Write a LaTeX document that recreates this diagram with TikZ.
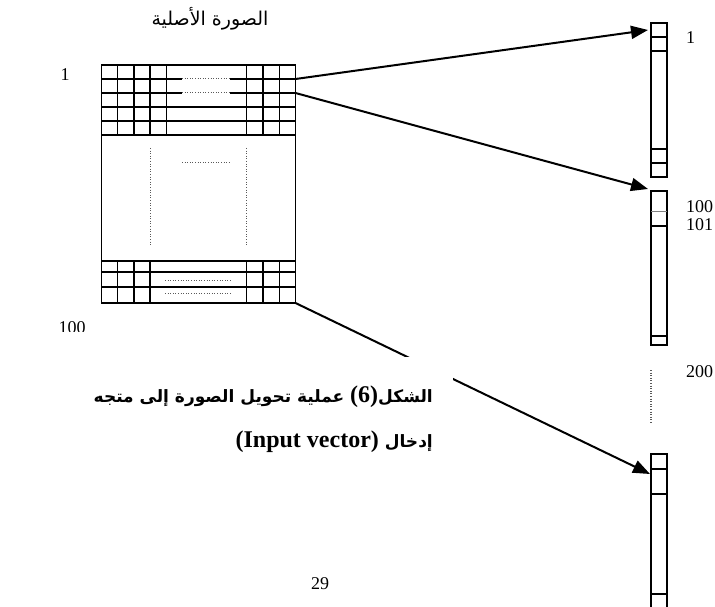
\documentclass[tikz,border=0pt]{standalone}
\usepackage{fontspec}
\setmainfont{Liberation Serif}
\newfontfamily\arabicfont[Script=Arabic]{DejaVu Sans}
\TeXXeTstate=1
\usetikzlibrary{arrows.meta}
\begin{document}
\begin{tikzpicture}[x=1pt,y=-1pt,
  gridline/.style={line width=1.8pt},
  dotline/.style={line width=1pt, dash pattern=on 1pt off 1.6pt, gray!70!black},
  vline/.style={line width=2pt},
  arr/.style={line width=2pt, -{Triangle[length=17pt,width=13pt]}},
  num/.style={font=\fontsize{18}{20}\selectfont, inner sep=0pt},
]
\useasboundingbox (0,0) rectangle (715,607);

% title
\node[font=\arabicfont\fontsize{19}{22}\selectfont, inner sep=0pt] (title) at (210,19) {\beginR الصورة الأصلية\endR};

% ---- image grid ----
\draw[gridline] (101.5,65) rectangle (295.5,303);
\foreach \y in {79,93,107,121,135} {
  \draw[gridline] (101.5,\y) -- (295.5,\y);
}
\foreach \x in {117.5,134,150,166.5,246.5,263,279.5} {
  \draw[gridline] (\x,65) -- (\x,135);
}
\foreach \y in {79,93} {
  \draw[white, line width=2.4pt] (182,\y) -- (230,\y);
  \draw[dotline] (182,\y) -- (230,\y);
}
\draw[dotline] (150,148) -- (150,245);
\draw[dotline] (246.5,148) -- (246.5,245);
\draw[dotline] (182,163) -- (230,163);
\foreach \y in {261,272,287} {
  \draw[gridline] (101.5,\y) -- (295.5,\y);
}
\foreach \x in {117.5,134,150,246.5,263,279.5} {
  \draw[gridline] (\x,261) -- (\x,303);
}
\draw[dotline] (165,280) -- (232,280);
\draw[dotline] (165,293) -- (232,293);

\coordinate (r1) at (295.5,79);
\coordinate (r2) at (295.5,93);
\coordinate (r3) at (295.5,303);

% left labels
\node[num] (l1) at (65,75) {1};
\begin{scope}
  \clip (0,300) rectangle (100,331);
  \node[num] (l100) at (72,328) {100};
\end{scope}

% ---- vector ----
\draw[vline] (651,22.7) rectangle (667,176.7);
\foreach \y in {37.3,50.7,149.3,162.7} { \draw[gridline] (651,\y) -- (667,\y); }
\draw[vline] (651,190.7) rectangle (667,345);
\draw[line width=1pt, gray] (651,211.7) -- (667,211.7);
\foreach \y in {226,336} { \draw[gridline] (651,\y) -- (667,\y); }
\draw[dotline, line width=1.3pt] (651,370) -- (651,423);
\draw[vline] (651,620) -- (651,454) -- (667,454) -- (667,620);
\foreach \y in {469.3,494,594} { \draw[gridline] (651,\y) -- (667,\y); }

\coordinate (v1) at (648,30);
\coordinate (v2) at (648,189);
\coordinate (v3) at (650,474);

% right labels
\node[num, anchor=west] (n1) at (686,38) {1};
\node[num, anchor=west] (n100) at (686,207) {100};
\node[num, anchor=west] (n101) at (686,225) {101};
\node[num, anchor=west] (n200) at (686,372) {200};

% arrows
\draw[arr] (r1) -- (v1);
\draw[arr] (r2) -- (v2);
\draw[arr] (r3) -- (v3);

% caption mask and text
\fill[white] (60,357) rectangle (453,460);
\node[font=\arabicfont\bfseries\fontsize{17}{20}\selectfont, inner sep=0pt, anchor=base east] (cap1) at (433,402)
  {\beginR الشكل\beginL{\rmfamily\bfseries\fontsize{24}{26}\selectfont(6)}\endL{} عملية تحويل الصورة إلى متجه\endR};
\node[font=\arabicfont\bfseries\fontsize{17}{20}\selectfont, inner sep=0pt, anchor=base east] (cap2) at (433,447)
  {\beginR إدخال \beginL{\rmfamily\bfseries\fontsize{24}{26}\selectfont(Input vector)}\endL\endR};

% page number
\node[num] (page) at (320,584) {29};
\end{tikzpicture}
\end{document}
